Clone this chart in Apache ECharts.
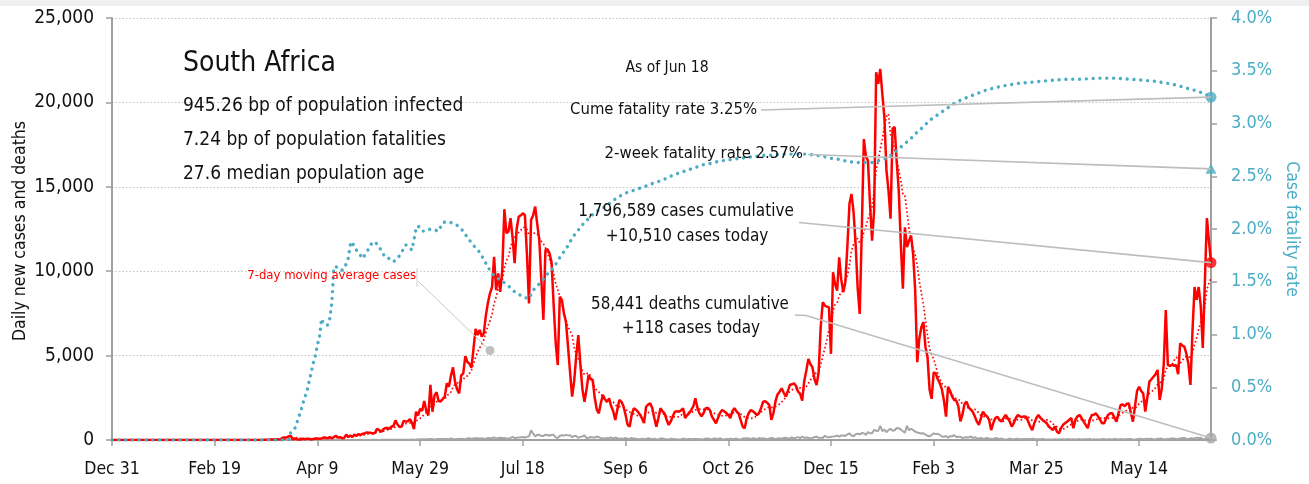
<!DOCTYPE html>
<html>
<head>
<meta charset="utf-8">
<script src="https://cdn.jsdelivr.net/npm/echarts@6/dist/echarts.min.js"></script>
<style>
  html, body { margin: 0; padding: 0; background: #ffffff; }
  #chart { width: 1309px; height: 484px; }
</style>
</head>
<body>
<div id="chart"></div>
<script>
// South Africa: daily new cases, daily deaths and case fatality rate, 2019-12-31 .. 2021-06-18

const FONT = '"Liberation Sans Narrow", "Arial Narrow", "DejaVu Sans Condensed", sans-serif';

const startDate = [2019, 11, 31]; // Dec 31 2019 (UTC, month 0-based)

const xTickLabels = ['Dec 31', 'Feb 19', 'Apr 9', 'May 29', 'Jul 18', 'Sep 6', 'Oct 26', 'Dec 15', 'Feb 3', 'Mar 25', 'May 14'];

// daily new cases, one line per month
const dailyCases = [
  // 2019-12-31 .. 2020-02-29
  0,0,0,0,0,0,0,0,0,0, 0,0,0,0,0,0,0,0,0,0, 0,0,0,0,0,0,0,0,0,0,
  0,0,0,0,0,0,0,0,0,0, 0,0,0,0,0,0,0,0,0,0, 0,0,0,0,0,0,0,0,0,0, 0,
  // 2020-03
  0,0,0,0,1,0,1,1,4,0,6,4,7,14,13,11,23,31,34,52,38,34,128,152,155,218,243,17,93,46,27,
  // 2020-04
  27,82,43,80,70,31,63,96,89,69,95,145,143,99,178,87,178,251,142,165,105,124,318,170,267,188,318,241,354,297,
  // 2020-05
  365,385,447,437,424,385,424,663,595,479,637,698,724,665,785,831,1160,918,767,803,1134,1100,1106,1240,1032,649,1673,1466,1837,1727,2312,
  // 2020-06
  1716,1455,3267,1674,2642,2828,2313,2275,2430,2572,3359,3147,3809,4302,3453,3000,2760,3825,3951,4966,4621,4518,4288,5430,6579,6215,6520,6130,6334,7375,
  // 2020-07
  8124,8690,9063,10853,8880,9870,8780,10070,13674,12250,12348,13140,12000,10470,12500,13240,13300,13430,13330,11000,8090,13040,13300,13830,12800,11860,9500,7120,11260,11300,11060,
  // 2020-08
  10500,8000,5730,4440,8490,8300,7500,7000,5530,4000,2570,3500,5000,6220,4500,3000,2270,3000,3850,3600,3560,2500,1800,1580,2200,2670,2400,2270,2470,2000,1700,
  // 2020-09
  1190,1800,2370,2270,2000,1500,900,790,1500,1880,1800,1680,1500,1280,1000,1970,2100,2170,1900,1300,790,1300,1880,1700,1580,1200,890,1100,1400,1680,
  // 2020-10
  1700,1680,1750,1880,1300,1480,1600,1780,2000,2470,1900,1580,1400,1600,1880,1900,1780,1400,1200,990,1300,1600,1780,1700,1600,1480,1300,1700,1880,1700,1580,
  // 2020-11
  1200,800,690,1300,1600,1780,1700,1600,1480,1600,1900,2270,2300,2200,2070,1190,1600,2300,2700,2860,3060,2800,2570,2900,3260,3300,3360,3200,2860,2730,
  // 2020-12
  2330,3500,4110,4800,4500,4300,3600,3260,4010,6700,8160,7960,7900,7860,5100,9940,9250,8850,10820,9500,8760,9350,11500,13990,14580,13500,11620,9000,7470,12400,17830,
  // 2021-01
  16800,16550,14000,11810,13590,21790,21100,21980,20500,19130,16000,14780,13110,18440,18540,16500,14780,11620,8960,12600,11420,11800,12110,11000,8860,4610,6000,6680,6980,5500,4910,
  // 2021-02
  3000,2440,4010,3950,3600,3360,3000,2330,1380,3160,2900,2570,2370,2330,2000,1100,1500,2130,2270,1940,1800,1680,1400,1100,890,1300,1680,1500,
  // 2021-03
  1400,1190,590,1000,1300,1380,1200,1090,1300,1480,1300,1100,790,1000,1300,1480,1400,1350,1400,1380,1100,800,590,1000,1300,1480,1300,1200,1090,1000,800,
  // 2021-04
  700,590,800,500,390,700,900,1000,1090,1200,1300,700,1200,1400,1480,1300,1090,900,700,1200,1480,1500,1580,1400,1200,990,990,1300,1500,1580,
  // 2021-05
  1580,1300,1090,1600,2070,2100,2000,2150,2170,1600,1090,2000,2900,3160,2900,2760,1680,2500,3460,3600,3750,3900,4150,2370,3000,4500,7700,4440,4400,4450,4400,
  // 2021-06 (to the 18th)
  4440,3900,5720,5600,5530,5130,4500,3260,6500,9060,8300,9060,7960,5450,9300,13150,11800,10510
];

// daily deaths, one line per month
const dailyDeaths = [
  // 2019-12-31 .. 2020-02-29
  0,0,0,0,0,0,0,0,0,0, 0,0,0,0,0,0,0,0,0,0, 0,0,0,0,0,0,0,0,0,0,
  0,0,0,0,0,0,0,0,0,0, 0,0,0,0,0,0,0,0,0,0, 0,0,0,0,0,0,0,0,0,0, 0,
  // 2020-03
  0,0,0,0,0,0,0,0,0,0,0,0,0,0,0,0,0,0,0,0,0,0,0,0,0,0,1,0,1,1,2,
  // 2020-04
  1,2,2,0,2,2,1,0,1,5,2,7,3,2,0,14,14,2,6,8,0,4,2,6,0,4,15,6,3,10,
  // 2020-05
  3,6,3,7,7,13,14,8,5,11,12,13,11,14,13,15,9,12,18,15,17,17,13,15,28,11,20,44,26,40,38,
  // 2020-06
  50,53,57,52,37,48,55,54,59,44,62,50,90,59,44,58,54,79,66,48,86,110,61,97,101,111,95,99,76,70,
  // 2020-07
  117,111,121,155,80,124,130,119,113,85,82,125,180,108,134,148,157,176,140,187,216,572,386,215,311,298,241,240,315,298,252,
  // 2020-08
  309,304,156,113,257,279,258,301,273,286,160,245,230,130,186,212,268,117,124,180,155,142,205,167,111,97,92,123,112,150,74,
  // 2020-09
  145,103,78,86,70,129,62,72,118,82,77,52,48,71,64,51,102,69,52,69,44,34,92,87,55,41,34,79,60,52,
  // 2020-10
  40,36,35,84,48,53,65,38,57,58,60,51,49,36,91,83,67,29,96,79,41,104,40,35,55,57,68,60,70,84,39,
  // 2020-11
  15,96,88,103,89,48,102,95,39,121,87,100,72,45,93,128,96,67,85,106,63,120,134,76,103,148,85,140,172,105,
  // 2020-12
  200,132,145,138,92,122,178,199,133,140,118,250,183,158,190,200,220,260,208,265,270,230,336,399,263,225,344,365,339,411,406,
  // 2021-01
  305,466,405,404,604,549,537,844,521,618,460,594,666,540,577,713,702,617,519,427,839,574,667,585,496,447,418,386,401,323,256,
  // 2021-02
  220,294,394,351,370,295,206,187,242,139,227,222,281,181,192,194,109,150,166,148,215,112,164,95,89,124,63,88,
  // 2021-03
  120,79,67,59,105,107,51,89,36,31,51,84,44,40,57,72,33,55,58,45,59,43,77,65,30,44,48,56,38,29,25,
  // 2021-04
  30,19,49,37,28,51,40,27,55,42,29,49,30,35,57,24,38,42,44,63,20,41,31,45,36,52,55,29,41,39,
  // 2021-05
  30,68,47,36,55,32,44,39,58,62,18,35,52,61,79,45,59,69,56,70,33,48,72,75,83,29,49,63,70,89,92,
  // 2021-06 (to the 18th)
  54,46,98,110,120,71,58,97,88,91,140,118,132,49,67,119,96,118
];

// cumulative case fatality rate (%), by date
const cfrDates = [
  '2019-12-31','2020-03-26','2020-03-27','2020-03-29','2020-03-31','2020-04-01','2020-04-02','2020-04-04','2020-04-05','2020-04-07',
  '2020-04-08','2020-04-09','2020-04-10','2020-04-11','2020-04-12','2020-04-13','2020-04-14','2020-04-15','2020-04-16','2020-04-17',
  '2020-04-19','2020-04-21','2020-04-22','2020-04-24','2020-04-25','2020-04-26','2020-04-27','2020-04-28','2020-04-30','2020-05-01',
  '2020-05-03','2020-05-05','2020-05-06','2020-05-08','2020-05-10','2020-05-12','2020-05-14','2020-05-16','2020-05-18','2020-05-20',
  '2020-05-22','2020-05-24','2020-05-25','2020-05-26','2020-05-27','2020-05-28','2020-05-30','2020-06-01','2020-06-03','2020-06-05',
  '2020-06-07','2020-06-09','2020-06-11','2020-06-13','2020-06-15','2020-06-17','2020-06-19','2020-06-21','2020-06-23','2020-06-25',
  '2020-06-27','2020-06-29','2020-07-01','2020-07-03','2020-07-05','2020-07-07','2020-07-09','2020-07-11','2020-07-13','2020-07-15',
  '2020-07-17','2020-07-19','2020-07-21','2020-07-23','2020-07-25','2020-07-27','2020-07-29','2020-07-31','2020-08-02','2020-08-04',
  '2020-08-06','2020-08-08','2020-08-10','2020-08-12','2020-08-14','2020-08-16','2020-08-18','2020-08-20','2020-08-23','2020-08-27',
  '2020-08-31','2020-09-03','2020-09-06','2020-09-09','2020-09-12','2020-09-15','2020-09-19','2020-09-22','2020-09-26','2020-09-29',
  '2020-10-02','2020-10-05','2020-10-08','2020-10-11','2020-10-14','2020-10-17','2020-10-21','2020-10-24','2020-10-28','2020-11-01',
  '2020-11-05','2020-11-09','2020-11-13','2020-11-17','2020-11-21','2020-11-25','2020-11-29','2020-12-03','2020-12-07','2020-12-11',
  '2020-12-15','2020-12-19','2020-12-23','2020-12-27','2020-12-31','2021-01-04','2021-01-08','2021-01-11','2021-01-14','2021-01-17',
  '2021-01-20','2021-01-23','2021-01-26','2021-01-29','2021-02-01','2021-02-04','2021-02-07','2021-02-10','2021-02-13','2021-02-17',
  '2021-02-21','2021-02-25','2021-03-01','2021-03-05','2021-03-10','2021-03-16','2021-03-22','2021-03-27','2021-04-02','2021-04-09',
  '2021-04-16','2021-04-24','2021-05-02','2021-05-09','2021-05-16','2021-05-22','2021-05-28','2021-06-02','2021-06-07','2021-06-11',
  '2021-06-15','2021-06-18'
];
const cfrValues = [
  0, 0, 0.07, 0.11, 0.22, 0.28, 0.35, 0.47, 0.56, 0.73,
  0.80, 0.90, 0.98, 1.15, 1.10, 1.09, 1.09, 1.15, 1.30, 1.64,
  1.64, 1.61, 1.62, 1.72, 1.85, 1.88, 1.82, 1.80, 1.75, 1.72,
  1.78, 1.85, 1.88, 1.86, 1.80, 1.73, 1.72, 1.69, 1.72, 1.78,
  1.85, 1.82, 1.80, 1.90, 2.00, 2.03, 1.98, 1.98, 2.00, 1.99,
  1.98, 2.06, 2.07, 2.06, 2.05, 2.02, 1.98, 1.92, 1.87, 1.82,
  1.78, 1.71, 1.64, 1.58, 1.54, 1.52, 1.49, 1.46, 1.42, 1.39,
  1.37, 1.35, 1.34, 1.42, 1.46, 1.50, 1.55, 1.60, 1.63, 1.70,
  1.76, 1.81, 1.88, 1.94, 1.99, 2.04, 2.08, 2.12, 2.17, 2.21,
  2.27, 2.31, 2.34, 2.36, 2.38, 2.40, 2.43, 2.45, 2.48, 2.51,
  2.53, 2.55, 2.57, 2.59, 2.61, 2.62, 2.64, 2.65, 2.66, 2.67,
  2.68, 2.69, 2.70, 2.70, 2.71, 2.71, 2.71, 2.71, 2.70, 2.69,
  2.67, 2.66, 2.64, 2.63, 2.63, 2.63, 2.65, 2.67, 2.71, 2.76,
  2.81, 2.86, 2.92, 2.97, 3.03, 3.07, 3.11, 3.15, 3.19, 3.23,
  3.26, 3.29, 3.32, 3.34, 3.36, 3.38, 3.39, 3.40, 3.41, 3.42,
  3.42, 3.43, 3.43, 3.42, 3.41, 3.40, 3.38, 3.36, 3.33, 3.31,
  3.28, 3.25
];

// headline figures as of Jun 18
const cumeFatalityRate = 3.25;
const twoWeekFatalityRate = 2.57;
const totalCases = 1796589;
const totalDeaths = 58441;
const populationInfectedBp = 945.26;
const populationFatalitiesBp = 7.24;
const medianAge = 27.6;

// ---------------------------------------------------------------------------

const dates = [];
{
  const t0 = Date.UTC(startDate[0], startDate[1], startDate[2]);
  for (let i = 0; i < dailyCases.length; i++) {
    dates.push(new Date(t0 + i * 86400000).toISOString().slice(0, 10));
  }
}
const last = dates.length - 1;
const dateIndex = {};
dates.forEach((d, i) => { dateIndex[d] = i; });

// trailing 7-day mean of the daily cases
const movingAvg = dailyCases.map((v, i) => {
  const win = dailyCases.slice(Math.max(0, i - 6), i + 1);
  return win.reduce((a, b) => a + b, 0) / win.length;
});

const cfrData = cfrDates.map((d, i) => [dateIndex[d], cfrValues[i]]);

const fmt = n => n.toLocaleString('en-US');

const RED = '#ff0000';
const BLUE = '#4bacc6';
const GREY = '#a6a6a6';
const AXIS = '#a0a0a0';
const TEXT = '#111111';

const chart = echarts.init(document.getElementById('chart'), null, { renderer: 'canvas' });

const option = {
  animation: false,
  backgroundColor: '#ffffff',
  textStyle: { fontFamily: FONT },
  grid: { left: 112, right: 98, top: 18, bottom: 44, containLabel: false, outerBoundsMode: 'none' },
  xAxis: {
    type: 'category',
    data: dates,
    boundaryGap: false,
    axisLine: { lineStyle: { color: AXIS, width: 2 } },
    axisTick: { show: true, interval: 49, length: 6, lineStyle: { color: AXIS, width: 1.5 } },
    axisLabel: {
      interval: 49, margin: 20, color: TEXT, fontSize: 17.5, fontFamily: FONT,
      formatter: (val, idx) => xTickLabels[Math.round(idx / 50)] || ''
    },
    splitLine: { show: false }
  },
  yAxis: [
    {
      type: 'value', min: 0, max: 25000, interval: 5000,
      axisLine: { show: true, lineStyle: { color: AXIS, width: 2 } },
      axisTick: { show: true, length: 6, lineStyle: { color: AXIS, width: 1.5 } },
      axisLabel: { color: TEXT, fontSize: 19, fontFamily: FONT, margin: 18, formatter: v => fmt(v) },
      splitLine: { show: true, lineStyle: { color: '#c4c4c4', width: 1.2, type: [1.5, 2] } }
    },
    {
      type: 'value', min: 0, max: 4, interval: 0.5, position: 'right',
      name: 'Case fatality rate', nameLocation: 'middle', nameGap: 67, nameRotate: -90,
      nameTextStyle: { color: BLUE, fontSize: 17.5, fontFamily: FONT },
      axisLine: { show: true, lineStyle: { color: AXIS, width: 2 } },
      axisTick: { show: true, length: 6, lineStyle: { color: AXIS, width: 1.5 } },
      axisLabel: { color: BLUE, fontSize: 18, fontFamily: FONT, margin: 20, formatter: v => v.toFixed(1) + '%' },
      splitLine: { show: false }
    }
  ],
  series: [
    {
      name: 'Daily deaths', type: 'line', yAxisIndex: 0, data: dailyDeaths,
      symbol: 'none', lineStyle: { color: GREY, width: 2 }, z: 2
    },
    {
      name: 'Daily cases', type: 'line', yAxisIndex: 0, data: dailyCases,
      symbol: 'none', lineStyle: { color: RED, width: 2.5 }, z: 3
    },
    {
      name: '7-day moving average cases', type: 'line', yAxisIndex: 0, data: movingAvg,
      symbol: 'none', lineStyle: { color: RED, width: 1.7, type: [1.6, 2.4] }, z: 4
    },
    {
      name: 'Case fatality rate', type: 'line', yAxisIndex: 1, data: cfrData,
      symbol: 'none', lineStyle: { color: BLUE, width: 3.4, type: [0.01, 6.8], cap: 'round' }, z: 5
    },
    {
      name: 'cfr-end', type: 'scatter', yAxisIndex: 1,
      data: [{ value: [last, cumeFatalityRate], symbol: 'circle', symbolSize: 11 },
             { value: [last, twoWeekFatalityRate], symbol: 'triangle', symbolSize: [11, 10] }],
      itemStyle: { color: BLUE }, z: 6
    },
    {
      name: 'cases-end', type: 'scatter', yAxisIndex: 0,
      data: [{ value: [last, dailyCases[last]], itemStyle: { color: RED } },
             { value: [last, dailyDeaths[last]], itemStyle: { color: GREY } }],
      symbol: 'circle', symbolSize: 11, z: 6
    }
  ]
};

chart.setOption(option);

// annotations: text blocks and leader lines to the end markers
const toPx = (seriesIndex, v) => chart.convertToPixel({ seriesIndex: seriesIndex }, [last, v]);
const pCume = toPx(4, cumeFatalityRate);
const pTwoWeek = toPx(4, twoWeekFatalityRate);
const pCases = toPx(5, dailyCases[last]);
const pDeaths = toPx(5, dailyDeaths[last]);

const txt = (text, x, y, size, opts) => ({
  type: 'text', z: 50, silent: true,
  style: Object.assign({
    text: text, x: x, y: y, fill: TEXT,
    font: size + 'px ' + FONT, align: 'left', verticalAlign: 'middle'
  }, opts || {})
});
const leader = (points, color, width) => ({
  type: 'polyline', z: 40, silent: true,
  shape: { points: points },
  style: { stroke: color || '#bdbdbd', lineWidth: width || 1.6, fill: null }
});

chart.setOption({
  graphic: [
    { type: 'rect', z: 60, silent: true, shape: { x: 0, y: 0, width: 1309, height: 6 }, style: { fill: '#f0f0f0' } },

    // left axis title, reading bottom to top
    {
      type: 'text', z: 50, silent: true, x: 20, y: 231, rotation: Math.PI / 2,
      style: { text: 'Daily new cases and deaths', fill: TEXT, font: '17.5px ' + FONT, align: 'center', verticalAlign: 'middle' }
    },

    txt('South Africa', 183, 64, 28),
    txt(populationInfectedBp.toFixed(2) + ' bp of population infected', 183, 106, 19),
    txt(populationFatalitiesBp.toFixed(2) + ' bp of population fatalities', 183, 140, 19),
    txt(medianAge.toFixed(1) + ' median population age', 183, 174, 19),

    txt('As of Jun 18', 667, 68, 15.5, { align: 'center' }),
    txt('Cume fatality rate ' + cumeFatalityRate.toFixed(2) + '%', 757, 110, 16.5, { align: 'right' }),
    txt('2-week fatality rate ' + twoWeekFatalityRate.toFixed(2) + '%', 803, 154, 16.6, { align: 'right' }),
    txt(fmt(totalCases) + ' cases cumulative', 686, 212, 17, { align: 'center' }),
    txt('+' + fmt(dailyCases[last]) + ' cases today', 687, 237, 17, { align: 'center' }),
    txt(fmt(totalDeaths) + ' deaths cumulative', 690, 305, 16.8, { align: 'center' }),
    txt('+' + fmt(dailyDeaths[last]) + ' cases today', 691, 329, 17, { align: 'center' }),

    txt('7-day moving average cases', 416, 276, 13, { align: 'right', fill: RED }),
    leader([[417, 268], [417, 287]], '#cfcfcf', 1),
    leader([[418, 281], [490, 350.5]], '#c8c8c8', 1),
    { type: 'circle', z: 41, silent: true, shape: { cx: 490, cy: 350.5, r: 4.5 }, style: { fill: '#bfbfbf' } },

    leader([[761, 110], pCume]),
    leader([[808, 154.5], pTwoWeek]),
    leader([[799, 222.5], pCases]),
    leader([[795, 315], [806, 315.5], pDeaths])
  ]
});
</script>
</body>
</html>
